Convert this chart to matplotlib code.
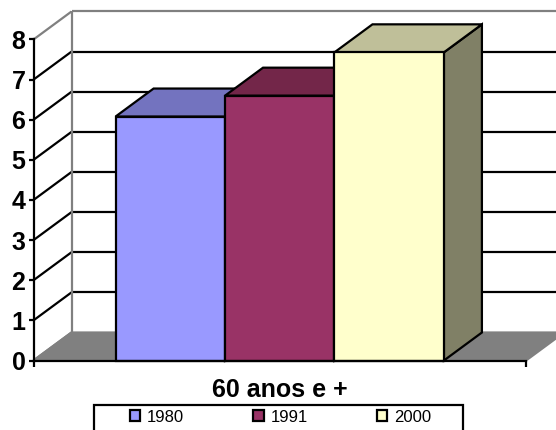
#!/usr/bin/env python3
"""3-D style column chart of the 60+ age group in three census years."""
import matplotlib as mpl
mpl.use('Agg')
import matplotlib.pyplot as plt
from matplotlib.patches import Patch, Polygon, Rectangle

plt.rcParams['font.family'] = ['Liberation Sans', 'DejaVu Sans']

years = ["1980", "1991", "2000"]
values = [6.08, 6.60, 7.68]
y_ticks = [0, 1, 2, 3, 4, 5, 6, 7, 8]
group_label = "60 anos e +"

front_colors = ["#9999FF", "#993366", "#FFFFCC"]
top_colors = ["#7373BF", "#732649", "#BFBF99"]
side_colors = ["#737399", "#5C1F3D", "#808066"]

W, H = 556, 430
LW = 1.6
GREY = "#808080"

fig = plt.figure(figsize=(W / 100, H / 100), dpi=100, facecolor="white")
ax = fig.add_axes([33.5 / W, 1 - 360.5 / H, 492.5 / W, 321 / H])
ax.set_xlim(-1.25, 3.25)
ax.set_ylim(0, 8)
ax.patch.set_visible(False)

# oblique offset of the back wall, in data units
DX = 38 / (492.5 / 4.5)
DY = 28 / (321 / 8)
x0, x1 = ax.get_xlim()


def add_poly(pts, fc, ec="black", z=2, lw=LW):
    ax.add_patch(Polygon(pts, closed=True, facecolor=fc, edgecolor=ec,
                         lw=lw, zorder=z, clip_on=False, joinstyle="miter"))


def add_line(xs, ys, color="black", z=1):
    ax.plot(xs, ys, color=color, lw=LW, zorder=z, clip_on=False,
            solid_capstyle="butt")


# floor
add_poly([(x0, 0), (x0 + DX, DY), (x1 + DX, DY), (x1, 0)], GREY, ec=GREY, z=1)

# walls: gridlines run along the side wall and across the back
for t in y_ticks:
    wall_color = GREY if t in (0, 8) else "black"
    add_line([x0, x0 + DX], [t, t + DY], color=wall_color)
    if t > 0:
        add_line([x0 + DX, x1 + DX], [t + DY, t + DY], color=wall_color)
add_line([x0 + DX, x0 + DX], [DY, 8 + DY], color=GREY)

# columns, left to right so each one covers the previous side face
for i, v in enumerate(values):
    left, right = i - 0.5, i + 0.5
    z = 3 + i
    add_poly([(right, 0), (right + DX, DY), (right + DX, v + DY), (right, v)],
             side_colors[i], z=z)
    add_poly([(left, v), (left + DX, v + DY), (right + DX, v + DY), (right, v)],
             top_colors[i], z=z)
    add_poly([(left, 0), (right, 0), (right, v), (left, v)],
             front_colors[i], z=z)

for side in ("top", "right"):
    ax.spines[side].set_visible(False)
for side in ("left", "bottom"):
    ax.spines[side].set_linewidth(LW)
    ax.spines[side].set_zorder(10)

ax.set_yticks(y_ticks)
ax.set_xticks([x0, x1])
ax.set_xticklabels([])
ax.tick_params(axis="y", length=3.8, width=LW, pad=2, labelsize=18)
ax.tick_params(axis="x", length=4.3, width=LW)
for lab in ax.get_yticklabels():
    lab.set_fontweight("bold")
ax.set_xlabel(group_label, fontsize=18, fontweight="bold", labelpad=5)

# legend box runs off the bottom edge of the figure
fig.add_artist(Rectangle((93.5 / W, 1 - 432 / H), 369 / W, 27.5 / H,
                         transform=fig.transFigure, facecolor="white",
                         edgecolor="black", lw=LW))
handles = [Patch(facecolor=c, edgecolor="black", lw=LW) for c in front_colors]
leg = fig.legend(handles, years, ncol=3, loc="center left",
                 bbox_to_anchor=(130 / W, 1 - 417 / H), borderaxespad=0,
                 fontsize=12, frameon=False, borderpad=0,
                 handlelength=0.62, handleheight=0.62,
                 handletextpad=0.4, columnspacing=4.16)

fig.savefig("out.png", dpi=100, facecolor="white")
